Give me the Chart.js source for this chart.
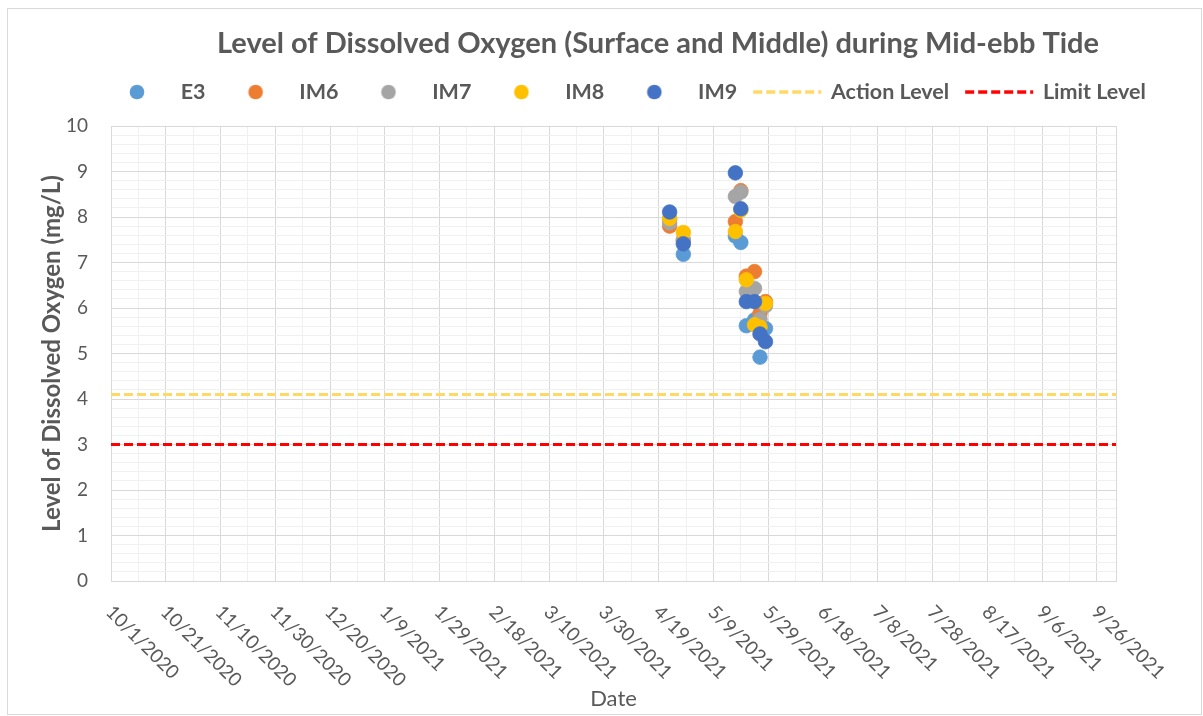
<!DOCTYPE html>
<html>
<head>
<meta charset="utf-8">
<script src="https://cdn.jsdelivr.net/npm/chart.js@4/dist/chart.umd.min.js"></script>
<style>
  html, body { margin: 0; padding: 0; background: #ffffff; }
  #wrap { width: 1203px; height: 716px; }
</style>
</head>
<body>
<div id="wrap"><canvas id="c" width="1203" height="716"></canvas></div>
<script>
// ---------------- DATA ----------------
const chartTitle = 'Level of Dissolved Oxygen (Surface and Middle) during Mid-ebb Tide';
const xAxisTitle = 'Date';
const yAxisTitle = 'Level of Dissolved Oxygen (mg/L)';

const sampleDates = ['2021-04-23', '2021-04-28', '2021-05-17', '2021-05-19',
                     '2021-05-21', '2021-05-24', '2021-05-26', '2021-05-28'];

const stationNames = ['E3', 'IM6', 'IM7', 'IM8', 'IM9'];
const valuesE3  = [7.95, 7.18, 7.58, 7.44, 5.61, 5.74, 4.92, 5.55];
const valuesIM6 = [7.80, 7.48, 7.90, 8.58, 6.70, 6.80, 5.88, 6.14];
const valuesIM7 = [7.87, 7.50, 8.45, 8.55, 6.36, 6.43, 5.75, 6.05];
const valuesIM8 = [7.97, 7.66, 7.68, 8.15, 6.62, 5.63, 5.58, 6.10];
const valuesIM9 = [8.11, 7.41, 8.97, 8.18, 6.14, 6.14, 5.43, 5.26];

const actionLevel = 4.1;
const limitLevel = 3.0;
const levelNames = ['Action Level', 'Limit Level'];

const axisStartDate = '2020-10-01';
const axisEndDate = '2021-10-03';
const xLabelStepDays = 20;
const xGridStepDays = 10;
const yMin = 0, yMax = 10, yLabelStep = 1, yGridStep = 0.2;

// ---------------- HELPERS ----------------
const DAY = 86400000;
function toUTC(s) { const p = s.split('-').map(Number); return Date.UTC(p[0], p[1] - 1, p[2]); }
const originUTC = toUTC(axisStartDate);
function dayIndex(s) { return Math.round((toUTC(s) - originUTC) / DAY); }
function dayLabel(d) {
  const dt = new Date(originUTC + d * DAY);
  return (dt.getUTCMonth() + 1) + '/' + dt.getUTCDate() + '/' + dt.getUTCFullYear();
}
const xMaxDay = dayIndex(axisEndDate);
const sampleDays = sampleDates.map(dayIndex);

const stationValues = [valuesE3, valuesIM6, valuesIM7, valuesIM8, valuesIM9];
const stationColors = ['#5B9BD5', '#ED7D31', '#A5A5A5', '#FFC000', '#4472C4'];
const levelValues = [actionLevel, limitLevel];
const levelColors = ['#FFD966', '#FF0000'];

const GRAY = '#595959';
Chart.defaults.font.family = 'Lato';
Chart.defaults.color = GRAY;

// legend icons
function circleIcon(color) {
  const c = document.createElement('canvas'); c.width = 70; c.height = 20;
  const g = c.getContext('2d'); g.fillStyle = color;
  g.beginPath(); g.arc(35, 10, 7.3, 0, Math.PI * 2); g.fill();
  return c;
}
function dashIcon(color) {
  const c = document.createElement('canvas'); c.width = 70; c.height = 20;
  const g = c.getContext('2d'); g.strokeStyle = color; g.lineWidth = 3.5;
  g.setLineDash([9, 4]); g.beginPath(); g.moveTo(1, 10); g.lineTo(69, 10); g.stroke();
  return c;
}

const datasets = [];
stationNames.forEach((name, i) => {
  datasets.push({
    type: 'scatter',
    label: name,
    data: sampleDays.map((d, k) => ({ x: d, y: stationValues[i][k] })),
    backgroundColor: stationColors[i],
    borderColor: stationColors[i],
    borderWidth: 0.75,
    pointRadius: 7.3,
    pointHoverRadius: 7.3,
    order: stationNames.length - i,
    legendIcon: circleIcon(stationColors[i])
  });
});
levelNames.forEach((name, i) => {
  datasets.push({
    type: 'line',
    label: name,
    data: [{ x: 0, y: levelValues[i] }, { x: xMaxDay, y: levelValues[i] }],
    borderColor: levelColors[i],
    backgroundColor: levelColors[i],
    borderWidth: 3,
    borderDash: [9, 4],
    pointRadius: 0,
    fill: false,
    order: 10 + i,
    legendIcon: dashIcon(levelColors[i])
  });
});

// ---------------- PLUGINS ----------------
const framePlugin = {
  id: 'frame',
  beforeDraw(chart) {
    const ctx = chart.ctx;
    ctx.save();
    ctx.fillStyle = '#ffffff';
    ctx.fillRect(0, 0, chart.width, chart.height);
    ctx.strokeStyle = '#D9D9D9';
    ctx.lineWidth = 1;
    ctx.strokeRect(7.5, 8.5, 1194, 706);
    ctx.restore();
  },
  beforeDatasetsDraw(chart) {
    const a = chart.chartArea, ctx = chart.ctx;
    ctx.save();
    ctx.strokeStyle = '#D9D9D9';
    ctx.lineWidth = 1;
    ctx.strokeRect(Math.round(a.left) + 0.5, Math.round(a.top) + 0.5,
                   Math.round(a.right - a.left), Math.round(a.bottom - a.top));
    ctx.restore();
  }
};

const positionPlugin = {
  id: 'positioner',
  afterLayout(chart) {
    if (chart.titleBlock) {
      const target = 658;
      const cur = (chart.titleBlock.left + chart.titleBlock.right) / 2;
      chart.titleBlock.left += target - cur;
      chart.titleBlock.right += target - cur;
    }
    const lg = chart.legend;
    if (lg && lg.lineWidths) {
      const pad = lg.options.labels.padding;
      const curStart = (lg.left + pad + lg.right - lg.lineWidths[0]) / 2;
      const shift = 104 - curStart;
      lg.left += shift; lg.right += shift;
    }
  }
};

const xLabelPlugin = {
  id: 'xlabels',
  afterDraw(chart) {
    const xs = chart.scales.x;
    const ctx = chart.ctx;
    ctx.save();
    ctx.fillStyle = GRAY;
    ctx.font = '19px Lato';
    ctx.textAlign = 'left';
    ctx.textBaseline = 'middle';
    xs.ticks.forEach(t => {
      if (Math.round(t.value) % xLabelStepDays !== 0) return;
      const px = xs.getPixelForValue(t.value);
      ctx.save();
      ctx.translate(px - 2, xs.top + 28);
      ctx.rotate(Math.PI / 4);
      ctx.fillText(dayLabel(t.value), 0, 0);
      ctx.restore();
    });
    ctx.restore();
  }
};

// ---------------- CHART ----------------
new Chart(document.getElementById('c'), {
  data: { datasets },
  options: {
    responsive: false,
    animation: false,
    events: [],
    layout: { padding: { left: 0, right: 87, top: 0, bottom: 0 } },
    plugins: {
      tooltip: { enabled: false },
      title: {
        display: true,
        text: chartTitle,
        color: GRAY,
        font: { family: 'Lato', size: 29, weight: 'bold' },
        padding: { top: 26, bottom: 3.5 }
      },
      legend: {
        display: true,
        position: 'top',
        labels: {
          usePointStyle: true,
          pointStyleWidth: 66,
          padding: 17,
          color: GRAY,
          font: { family: 'Lato', size: 21.5, weight: 'bold' },
          generateLabels(chart) {
            return chart.data.datasets.map((ds, i) => ({
              text: ds.label,
              pointStyle: ds.legendIcon,
              fillStyle: 'rgba(0,0,0,0)',
              strokeStyle: 'rgba(0,0,0,0)',
              lineWidth: 0,
              hidden: false,
              fontColor: GRAY,
              datasetIndex: i
            }));
          }
        }
      }
    },
    scales: {
      x: {
        type: 'linear',
        position: 'bottom',
        min: 0,
        max: xMaxDay,
        ticks: { display: false, stepSize: xGridStepDays, includeBounds: false, autoSkip: false },
        grid: {
          drawTicks: false,
          color: c => (Math.round(c.tick.value) % xLabelStepDays === 0) ? '#D9D9D9' : '#F0F0F0',
          lineWidth: 1
        },
        border: { display: true, color: '#D9D9D9' },
        title: {
          display: true,
          text: xAxisTitle,
          color: GRAY,
          font: { family: 'Lato', size: 22 },
          padding: { top: 0, bottom: 4 }
        },
        afterFit(s) { s.height = 135; }
      },
      xTop: {
        type: 'linear',
        position: 'top',
        display: true,
        ticks: { display: false },
        grid: { display: false, drawTicks: false },
        border: { display: false },
        afterFit(s) { s.height = 13.2; }
      },
      y: {
        type: 'linear',
        min: yMin,
        max: yMax,
        ticks: {
          stepSize: yGridStep,
          autoSkip: false,
          padding: 23,
          color: GRAY,
          font: { family: 'Lato', size: 19 },
          callback: v => (Math.abs(v / yLabelStep - Math.round(v / yLabelStep)) < 1e-6) ? String(Math.round(v)) : ''
        },
        grid: {
          drawTicks: false,
          color: c => (Math.abs(c.tick.value - Math.round(c.tick.value)) < 1e-6) ? '#D9D9D9' : '#F0F0F0',
          lineWidth: 1
        },
        border: { display: false },
        title: {
          display: true,
          text: yAxisTitle,
          color: GRAY,
          font: { family: 'Lato', size: 24, weight: 'bold' },
          padding: { top: 37.5, bottom: 0 }
        },
        afterFit(s) { s.width = 111; }
      }
    }
  },
  plugins: [framePlugin, positionPlugin, xLabelPlugin]
});
</script>
</body>
</html>
